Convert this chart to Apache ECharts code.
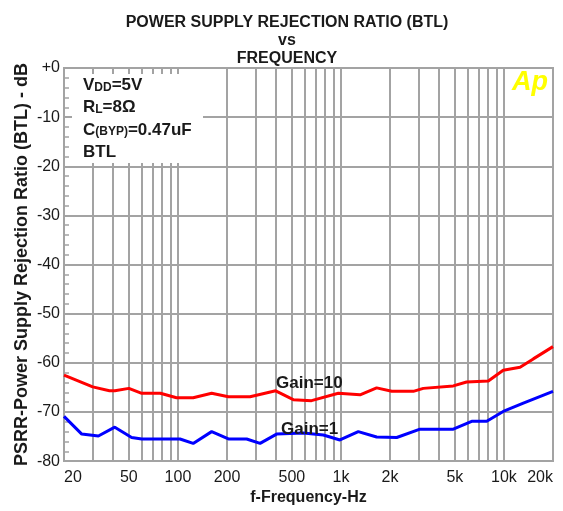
<!DOCTYPE html>
<html>
<head>
<meta charset="utf-8">
<script src="https://cdn.jsdelivr.net/npm/echarts@6/dist/echarts.min.js"></script>
<style>html,body{margin:0;padding:0;background:#fff;}#c{width:563px;height:511px;}</style>
</head>
<body>
<div id="c"></div>
<script>
// ---- data ----
var gain10Freq = [20, 30, 38, 41, 50, 60, 78, 98, 124, 161, 204, 277, 398, 510, 660, 964, 1310, 1656, 2050, 2780, 3200, 4890, 5900, 8020, 9900, 12560, 15140, 20000];
var gain10Db   = [-62.5, -64.9, -65.7, -65.7, -65.2, -66.2, -66.2, -67.1, -67.1, -66.2, -66.9, -66.9, -65.7, -67.5, -67.7, -66.2, -66.5, -65.1, -65.8, -65.8, -65.2, -64.7, -63.9, -63.7, -61.5, -60.9, -59.2, -56.7];
var gain1Freq  = [20, 25.7, 32.5, 41, 52, 60, 103, 124, 161, 204, 264, 319, 403, 588, 780, 986, 1278, 1656, 2200, 3056, 4890, 6340, 7840, 9900, 13150, 20000];
var gain1Db    = [-70.9, -74.5, -74.9, -73.1, -75.2, -75.5, -75.5, -76.4, -74.0, -75.5, -75.5, -76.4, -74.5, -74.3, -74.7, -75.7, -74.0, -75.1, -75.2, -73.5, -73.5, -71.9, -71.9, -69.9, -68.2, -65.8];
var xGridValues = [20, 30, 40, 50, 60, 70, 80, 90, 100, 200, 300, 400, 500, 600, 700, 800, 900, 1000, 2000, 3000, 4000, 5000, 6000, 7000, 8000, 9000, 10000, 20000];
var xLabelValues = [20, 50, 100, 200, 500, 1000, 2000, 5000, 10000, 20000];
var yMin = -80, yMax = 0, yStep = 10;

function pairs(xs, ys) { return xs.map(function (x, i) { return [x, ys[i]]; }); }

var chart = echarts.init(document.getElementById('c'), null, { renderer: 'canvas' });
var gridColor = '#a3a3a3';
var txt = '#1a1a1a';
var font = 'Liberation Sans, Arial, sans-serif';

chart.setOption({
  animation: false,
  backgroundColor: '#ffffff',
  title: {
    text: 'POWER SUPPLY REJECTION RATIO (BTL)\nvs\nFREQUENCY',
    left: 282, top: 9, textAlign: 'center',
    textStyle: { fontFamily: font, fontWeight: 'bold', fontSize: 16, lineHeight: 18, color: txt }
  },
  grid: { left: 64, right: 10, top: 68, bottom: 44, show: true, borderColor: gridColor, borderWidth: 2, backgroundColor: 'transparent' },
  xAxis: {
    type: 'log', logBase: 10, min: 20, max: 20000,
    name: 'f-Frequency-Hz', nameLocation: 'middle', nameGap: 26,
    nameTextStyle: { fontFamily: font, fontWeight: 'bold', fontSize: 16, color: txt },
    axisLine: { show: true, lineStyle: { color: gridColor, width: 2 } },
    axisTick: { show: false, customValues: xGridValues },
    axisLabel: {
      customValues: xLabelValues, margin: 8,
      alignMinLabel: 'left', alignMaxLabel: 'right',
      fontFamily: font, fontSize: 16, color: txt,
      formatter: function (v) { return v >= 1000 ? (v / 1000) + 'k' : String(v); }
    },
    splitLine: { show: true, lineStyle: { color: gridColor, width: 2 } }
  },
  yAxis: {
    type: 'value', min: yMin, max: yMax, interval: yStep,
    name: 'PSRR-Power Supply Rejection Ratio (BTL) - dB', nameLocation: 'middle', nameGap: 33,
    nameMoveOverlap: false,
    nameTextStyle: { fontFamily: font, fontWeight: 'bold', fontSize: 18, color: txt },
    axisLine: { show: true, lineStyle: { color: gridColor, width: 2 } },
    axisTick: { show: true, inside: true, length: 6, lineStyle: { color: gridColor, width: 2 } },
    minorTick: { show: true, splitNumber: 5, length: 5, lineStyle: { color: gridColor, width: 1.5 } },
    axisLabel: {
      margin: 4, fontFamily: font, fontSize: 16, color: txt,
      formatter: function (v) { return v === 0 ? '+0' : String(v); }
    },
    splitLine: { show: true, lineStyle: { color: gridColor, width: 2 } }
  },
  series: [
    { name: 'Gain=10', type: 'line', data: pairs(gain10Freq, gain10Db), showSymbol: false, symbol: 'none',
      lineStyle: { color: '#ff0000', width: 3 }, z: 5 },
    { name: 'Gain=1', type: 'line', data: pairs(gain1Freq, gain1Db), showSymbol: false, symbol: 'none',
      lineStyle: { color: '#0000ff', width: 3 }, z: 5 }
  ],
  graphic: [
    { type: 'rect', z: 100, shape: { x: 72, y: 74, width: 131, height: 89 }, style: { fill: '#ffffff' } },
    { type: 'text', z: 101, left: 83, top: 77, style: {
        text: '{b|V}{s|DD}{b|=5V}\n{b|R}{s|L}{b|=8Ω}\n{b|C}{s|(BYP)}{b|=0.47uF}\n{b|BTL}',
        fill: txt,
        rich: {
          b: { fontFamily: font, fontWeight: 'bold', fontSize: 17, lineHeight: 22.3, fill: txt },
          s: { fontFamily: font, fontWeight: 'bold', fontSize: 12, lineHeight: 22.3, fill: txt, padding: [4, 0, 0, 0] }
        } } },
    { type: 'text', z: 101, left: 512, top: 69, style: {
        text: 'Ap', fill: '#ffff00', font: 'italic bold 27px Liberation Sans, Arial, sans-serif' } },
    { type: 'text', z: 101, left: 276, top: 375, style: {
        text: 'Gain=10', fill: txt, font: 'bold 17px Liberation Sans, Arial, sans-serif' } },
    { type: 'text', z: 101, left: 281, top: 421, style: {
        text: 'Gain=1', fill: txt, font: 'bold 17px Liberation Sans, Arial, sans-serif' } }
  ]
});
</script>
</body>
</html>
